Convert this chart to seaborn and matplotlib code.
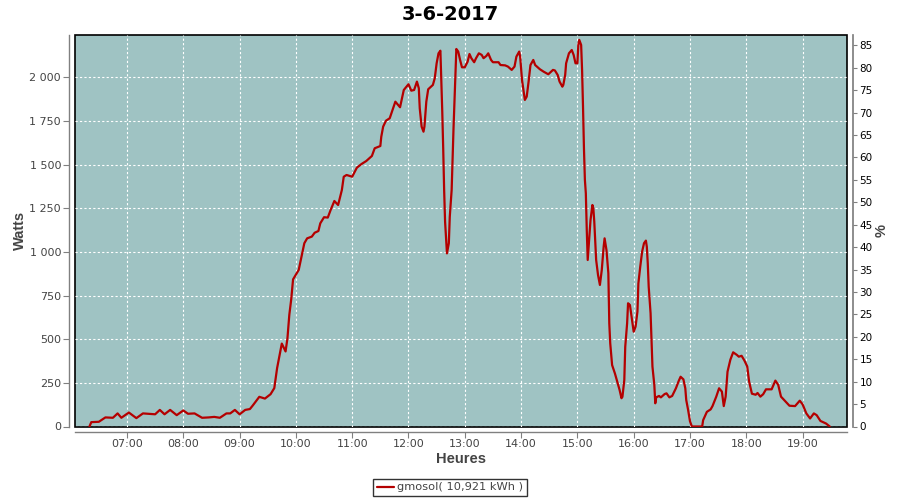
import pandas as pd, matplotlib.pyplot as plt
import seaborn as sns
import matplotlib.dates as mdates
import matplotlib.ticker as mticker

# readings of the day (time of day, watts)
times = ['06:20', '06:22', '06:30', '06:37', '06:45', '06:50', '06:54', '07:02', '07:10', '07:17',
         '07:22', '07:30', '07:35', '07:40', '07:46', '07:53', '08:00', '08:05', '08:12', '08:20',
         '08:27', '08:33', '08:39', '08:46', '08:50', '08:55', '09:00', '09:06', '09:11', '09:14',
         '09:21', '09:27', '09:33', '09:37', '09:40', '09:43', '09:45', '09:49', '09:51', '09:53',
         '09:55', '09:57', '10:03', '10:06', '10:09', '10:12', '10:17', '10:20', '10:24', '10:26',
         '10:30', '10:34', '10:37', '10:41', '10:45', '10:49', '10:51', '10:54', '11:00', '11:05',
         '11:10', '11:15', '11:21', '11:24', '11:30', '11:31', '11:33', '11:36', '11:40', '11:43',
         '11:46', '11:51', '11:55', '12:00', '12:03', '12:06', '12:09', '12:11', '12:12', '12:14',
         '12:16', '12:17', '12:19', '12:21', '12:26', '12:28', '12:30', '12:32', '12:34', '12:35',
         '12:36', '12:37', '12:38', '12:39', '12:41', '12:43', '12:44', '12:46', '12:47', '12:48',
         '12:50', '12:51', '12:53', '12:55', '12:57', '13:00', '13:03', '13:05', '13:07', '13:10',
         '13:12', '13:15', '13:18', '13:20', '13:23', '13:25', '13:28', '13:30', '13:36', '13:38',
         '13:43', '13:46', '13:50', '13:53', '13:55', '13:58', '13:59', '14:01', '14:04', '14:06',
         '14:08', '14:10', '14:13', '14:15', '14:20', '14:24', '14:29', '14:34', '14:36', '14:39',
         '14:41', '14:44', '14:45', '14:47', '14:48', '14:51', '14:54', '14:56', '14:58', '15:00',
         '15:01', '15:02', '15:04', '15:05', '15:06', '15:07', '15:08', '15:09', '15:10', '15:11',
         '15:12', '15:14', '15:16', '15:17', '15:18', '15:20', '15:22', '15:24', '15:26', '15:28',
         '15:29', '15:31', '15:33', '15:34', '15:35', '15:37', '15:40', '15:42', '15:45', '15:47',
         '15:48', '15:50', '15:51', '15:53', '15:54', '15:56', '15:58', '16:00', '16:02', '16:04',
         '16:05', '16:07', '16:09', '16:11', '16:13', '16:14', '16:15', '16:16', '16:18', '16:19',
         '16:20', '16:22', '16:23', '16:24', '16:27', '16:29', '16:33', '16:35', '16:38', '16:41',
         '16:45', '16:48', '16:50', '16:53', '16:55', '16:56', '16:58', '17:00', '17:02', '17:13',
         '17:14', '17:18', '17:22', '17:24', '17:28', '17:31', '17:34', '17:36', '17:38', '17:40',
         '17:43', '17:46', '17:50', '17:52', '17:55', '17:58', '18:01', '18:03', '18:06', '18:10',
         '18:12', '18:15', '18:18', '18:21', '18:27', '18:31', '18:34', '18:37', '18:41', '18:46',
         '18:52', '18:57', '19:00', '19:04', '19:08', '19:12', '19:15', '19:19', '19:25', '19:29']
watts = [0, 25, 27, 52, 50, 75, 50, 80, 48, 75,
         73, 70, 95, 70, 95, 65, 92, 73, 75, 50,
         52, 55, 50, 75, 75, 95, 70, 95, 100, 120,
         170, 160, 185, 220, 335, 420, 475, 430, 505, 640,
         727, 843, 897, 973, 1050, 1078, 1088, 1110, 1120, 1164,
         1199, 1197, 1240, 1292, 1269, 1355, 1431, 1441, 1431, 1483,
         1504, 1521, 1550, 1594, 1607, 1660, 1718, 1752, 1766, 1814,
         1861, 1829, 1928, 1961, 1924, 1928, 1976, 1938, 1823, 1718,
         1689, 1718, 1861, 1932, 1957, 1995, 2081, 2138, 2153, 1985,
         1804, 1594, 1355, 1174, 992, 1050, 1202, 1355, 1537, 1709,
         2004, 2163, 2148, 2100, 2058, 2058, 2090, 2134, 2110, 2087,
         2110, 2138, 2129, 2110, 2123, 2138, 2100, 2087, 2087, 2071,
         2069, 2062, 2043, 2062, 2119, 2148, 2119, 1985, 1871, 1890,
         1976, 2071, 2100, 2071, 2047, 2033, 2018, 2043, 2040, 2014,
         1976, 1947, 1957, 2014, 2081, 2138, 2157, 2129, 2081, 2081,
         2186, 2215, 2186, 2043, 1832, 1594, 1413, 1336, 1126, 954,
         1030, 1183, 1269, 1250, 1174, 954, 868, 811, 897, 1030,
         1078, 1011, 878, 591, 477, 352, 304, 266, 209, 162,
         170, 266, 457, 591, 706, 696, 620, 543, 572, 658,
         820, 916, 1002, 1050, 1065, 1030, 935, 801, 649, 496,
         343, 238, 133, 167, 175, 167, 186, 190, 167, 175,
         219, 261, 285, 270, 219, 152, 95, 30, 0, 0,
         36, 84, 98, 117, 171, 219, 200, 117, 171, 314,
         382, 425, 410, 400, 405, 378, 344, 258, 188, 182,
         192, 171, 185, 213, 213, 263, 239, 171, 148, 119,
         117, 148, 127, 75, 46, 75, 65, 32, 17, 0]

day = '2017-06-03'
title = '3-6-2017'
series_label = 'gmosol( 10,921 kWh )'

df = pd.DataFrame({'time': pd.to_datetime([day + ' ' + t for t in times]), 'watts': watts})

sns.set_theme(style='white')
plt.rcParams['font.family'] = ['DejaVu Sans']

fig = plt.figure(figsize=(9, 5), dpi=100)
ax = fig.add_axes([75 / 900, 1 - 426.5 / 500, (847 - 75) / 900, (426.5 - 35) / 500])

# plot background + black outline
ax.set_facecolor('#9fc3c3')
ax.patch.set_edgecolor('black')
ax.patch.set_linewidth(1.2)

sns.lineplot(data=df, x='time', y='watts', ax=ax, color='#b40000', linewidth=1.6,
             label=series_label, legend=False)

ax.set_xlim(pd.Timestamp(day + ' 06:04:36'), pd.Timestamp(day + ' 19:47:20'))
ax.set_ylim(0, 2243)
ax.yaxis.set_major_locator(mticker.MultipleLocator(250))
ax.yaxis.set_major_formatter(mticker.FuncFormatter(lambda v, _: f'{int(v):,}'.replace(',', ' ')))
ax.xaxis.set_major_locator(mdates.HourLocator())
ax.xaxis.set_major_formatter(mdates.DateFormatter('%H:%M'))

ax.grid(True, color='white', linestyle=(0, (2, 2)), linewidth=0.8)

for side in ['top', 'right']:
    ax.spines[side].set_visible(False)
for side in ['left', 'bottom']:
    ax.spines[side].set_position(('outward', 4))
    ax.spines[side].set_color('#808080')
    ax.spines[side].set_linewidth(1)

ax.tick_params(axis='both', which='major', direction='out', length=4, width=0.8,
               color='#808080', labelcolor='#444444', labelsize=8, pad=2,
               left=True, bottom=True)
ax.tick_params(axis='x', pad=1)

label_font = dict(family=['Liberation Sans', 'DejaVu Sans'], fontsize=10.5,
                  fontweight='bold', color='#444444')
ax.set_xlabel('Heures', labelpad=2, **label_font)
ax.set_ylabel('Watts', labelpad=2, **label_font)

# right axis in percent
ax2 = ax.twinx()
ax2.set_ylim(0, 87.3)
ax2.yaxis.set_major_locator(mticker.MultipleLocator(5))
for side in ['top', 'left', 'bottom']:
    ax2.spines[side].set_visible(False)
ax2.spines['right'].set_position(('outward', 4))
ax2.spines['right'].set_color('#808080')
ax2.tick_params(axis='y', direction='out', length=3, width=0.8, color='#808080',
                labelcolor='black', labelsize=7.5, pad=2, right=True)
ax2.set_ylabel('%', labelpad=1, **label_font)
ax2.grid(False)

fig.suptitle(title, fontsize=14, fontweight='bold', color='black', y=0.99, va='top')

handles, labels = ax.get_legend_handles_labels()
leg = fig.legend(handles, labels, loc='center', bbox_to_anchor=(0.5, 0.025), ncol=1,
                 frameon=True, fancybox=False, fontsize=8.2, handlelength=1.5,
                 handletextpad=0.3, borderpad=0.35, borderaxespad=0)
leg.get_frame().set_edgecolor('black')
leg.get_frame().set_linewidth(1)
for t in leg.get_texts():
    t.set_color('#444444')

plt.savefig('out.png', dpi=100)
plt.close()
